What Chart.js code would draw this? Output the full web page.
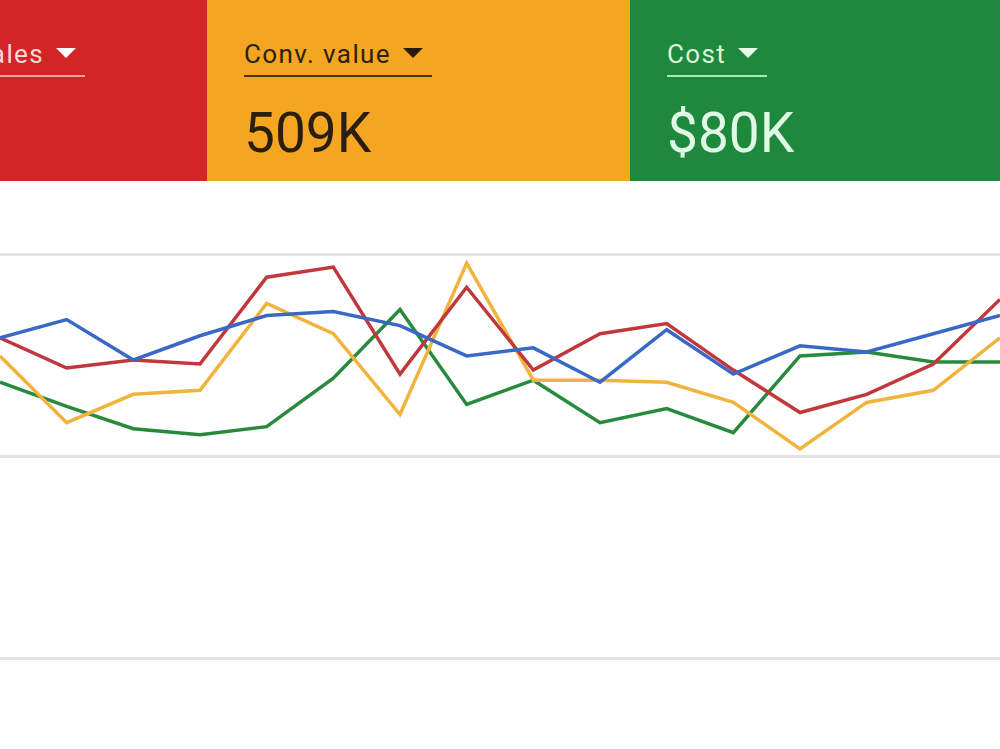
<!DOCTYPE html>
<html>
<head>
<script src="https://cdn.jsdelivr.net/npm/chart.js@4/dist/chart.umd.min.js"></script>
<style>
  body { margin: 0; width: 1000px; height: 749px; overflow: hidden; background: #fff; font-family: Roboto, "Noto Sans", sans-serif; }
  .panel { position: absolute; top: 0; height: 181px; overflow: hidden; }
  .label { position: absolute; top: 41px; font-size: 26px; line-height: 26px; letter-spacing: 1.4px; padding-bottom: 8px; padding-right: 9px; border-bottom: 2px solid; white-space: nowrap; }
  .tri { display: inline-block; width: 0; height: 0; border-left: 10px solid transparent; border-right: 10px solid transparent; border-top: 10px solid; margin-left: 12px; vertical-align: 5px; }
  .value { position: absolute; top: 106px; font-size: 55px; line-height: 54px; white-space: nowrap; }
  #chartBox { position: absolute; left: 0; top: 181px; width: 1000px; height: 568px; }
</style>
<script>
  // 16 points (arbitrary units, gridlines at 0 / 100 / 200)
  var days = ["1","2","3","4","5","6","7","8","9","10","11","12","13","14","15","16"];
  var blueValues   = [159, 168, 148, 160, 170, 172, 165, 150, 154, 137, 163, 141, 155, 152, 161, 170];
  var redValues    = [159, 144, 148, 146, 189, 194, 141, 184, 143, 161, 166, 143, 122, 131, 146, 178];
  var orangeValues = [150, 117, 131, 133, 176, 161, 121, 196, 138, 138, 137, 127, 104, 127, 133, 159];
  var greenValues  = [137, 125, 114, 111, 115, 139, 173, 126, 138, 117, 124, 112, 150, 152, 147, 147];
  var gridTicks = [0, 100, 200];

  function makeSet(label, values, color) {
    return {
      label: label,
      data: values,
      borderColor: color,
      borderWidth: 3.5,
      pointRadius: 0,
      tension: 0,
      fill: false
    };
  }

  function drawChart() {
    var ctx = document.getElementById("myChart").getContext("2d");
    new Chart(ctx, {
      type: 'line',
      data: {
        labels: days,
        datasets: [
          makeSet("Clicks", blueValues, "#3a68c6"),
          makeSet("Sales", redValues, "#c0383b"),
          makeSet("Conv. value", orangeValues, "#f0b33c"),
          makeSet("Cost", greenValues, "#288a3c")
        ]
      },
      options: {
        responsive: false,
        animation: false,
        layout: { padding: 0 },
        plugins: { legend: { display: false }, tooltip: { enabled: false } },
        scales: {
          x: { display: false, offset: false },
          y: {
            min: -44.55,
            max: 236.6,
            ticks: { display: false },
            border: { display: false },
            grid: { color: "#e3e3e3", lineWidth: 3, drawTicks: false },
            afterBuildTicks: function(axis) {
              axis.ticks = gridTicks.map(function(v) { return { value: v }; });
            }
          }
        }
      }
    });
  }
</script>
</head>
<body onload="drawChart()">

<div class="panel" style="left:0; width:207px; background:#d32426;">
  <div class="label" style="left:-26px; color:#fbd8d8; border-color:#f3a5a5;">Sales<span class="tri" style="border-top-color:#fff;"></span></div>
</div>
<div class="panel" style="left:207px; width:423px; background:#f4a623;">
  <div class="label" style="left:37px; color:#2c2210; border-color:#4a3410;">Conv. value<span class="tri" style="border-top-color:#2c1a08;"></span></div>
  <div class="value" style="left:37px; color:#2a1f0e;">509K</div>
</div>
<div class="panel" style="left:630px; width:370px; background:#1e883d;">
  <div class="label" style="left:37px; color:#d9f7dd; border-color:#a8ecb3;">Cost<span class="tri" style="border-top-color:#e6fbe9;"></span></div>
  <div class="value" style="left:37px; color:#e0f9e4;">$80K</div>
</div>

<div id="chartBox">
  <canvas id="myChart" width="1000" height="568"></canvas>
</div>
</body>
</html>
